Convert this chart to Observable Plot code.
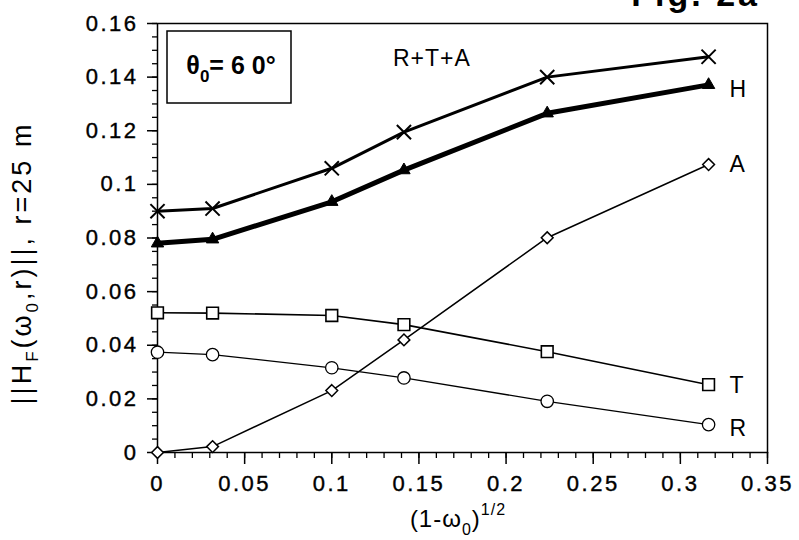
<!DOCTYPE html>
<html>
<head>
<meta charset="utf-8">
<script src="https://cdn.jsdelivr.net/npm/d3@7"></script>
<script src="https://cdn.jsdelivr.net/npm/@observablehq/plot@0.6"></script>
<style>
  html, body { margin: 0; padding: 0; background: #fff; }
  #chart { position: relative; width: 799px; height: 540px; overflow: hidden; }
  svg { font-family: "Liberation Sans", Arial, Helvetica, sans-serif; }
</style>
</head>
<body>
<div id="chart"></div>
<script>
// x values: (1-ω0)^(1/2)
const xVals = [0, 0.0316, 0.1, 0.1414, 0.2236, 0.3162];
// series values
const totalVals = [0.0900, 0.0910, 0.1060, 0.1195, 0.1400, 0.1476]; // × (R+T+A)
const hVals     = [0.0780, 0.0795, 0.0935, 0.1053, 0.1265, 0.1371]; // ▲ H
const aVals     = [0.0000, 0.0022, 0.0231, 0.0420, 0.0801, 0.1074]; // ◇ A
const tVals     = [0.0521, 0.0520, 0.0511, 0.0477, 0.0376, 0.0253]; // □ T
const rVals     = [0.0374, 0.0365, 0.0316, 0.0278, 0.0191, 0.0104]; // ○ R
// ticks
const xTicks = [0, 0.05, 0.1, 0.15, 0.2, 0.25, 0.3, 0.35];
const yTicks = [0, 0.02, 0.04, 0.06, 0.08, 0.1, 0.12, 0.14, 0.16];
const xMinor = d3.range(0, 0.3501, 0.01);
const yMinor = d3.range(0, 0.1601, 0.005);

const rows = (vals) => xVals.map((x, i) => ({x, y: vals[i]}));
const total = rows(totalVals), H = rows(hVals), A = rows(aVals), T = rows(tVals), R = rows(rVals);
const last = (d) => [d[d.length - 1]];

const chart = Plot.plot({
  width: 799,
  height: 540,
  marginLeft: 157,
  marginRight: 32,
  marginTop: 23,
  marginBottom: 88,
  style: {fontFamily: "Liberation Sans, Arial, sans-serif", color: "#000", background: "#fff"},
  x: {domain: [0, 0.35]},
  y: {domain: [0, 0.16]},
  marks: [
    Plot.frame({stroke: "#000", strokeWidth: 1.5}),
    Plot.axisX({ticks: xMinor, tickSize: 6, text: null, label: null, strokeWidth: 1.3}),
    Plot.axisX({ticks: xTicks, tickSize: 12, tickPadding: 11, tickFormat: d3.format("~g"),
      fontSize: 22, strokeWidth: 1.5, label: null}),
    Plot.axisY({ticks: yMinor, tickSize: 5, text: null, label: null, strokeWidth: 1.3}),
    Plot.axisY({ticks: yTicks, tickSize: 10, tickPadding: 9, tickFormat: d3.format("~g"),
      fontSize: 22, strokeWidth: 1.5, label: null}),
    // lines
    Plot.line(total, {x: "x", y: "y", stroke: "#000", strokeWidth: 3}),
    Plot.line(H, {x: "x", y: "y", stroke: "#000", strokeWidth: 5}),
    Plot.line(A, {x: "x", y: "y", stroke: "#000", strokeWidth: 1.5}),
    Plot.line(T, {x: "x", y: "y", stroke: "#000", strokeWidth: 1.6}),
    Plot.line(R, {x: "x", y: "y", stroke: "#000", strokeWidth: 1.3}),
    // markers
    Plot.dot(total, {x: "x", y: "y", symbol: "times", r: 6.5, stroke: "#000", strokeWidth: 2}),
    Plot.dot(H, {x: "x", y: "y", symbol: "triangle", r: 4.6, fill: "#000", stroke: "#000", strokeWidth: 1}),
    Plot.dot(A, {x: "x", y: "y", symbol: "diamond2", r: 5.3, fill: "#fff", stroke: "#000", strokeWidth: 1.5}),
    Plot.dot(T, {x: "x", y: "y", symbol: "square", r: 6.6, fill: "#fff", stroke: "#000", strokeWidth: 1.6}),
    Plot.dot(R, {x: "x", y: "y", symbol: "circle", r: 6.2, fill: "#fff", stroke: "#000", strokeWidth: 1.3}),
    // series labels
    Plot.text(last(H), {x: "x", y: "y", text: () => "H", dx: 21, dy: 5, textAnchor: "start", fontSize: 23, fill: "#000"}),
    Plot.text(last(A), {x: "x", y: "y", text: () => "A", dx: 21, dy: 0, textAnchor: "start", fontSize: 23, fill: "#000"}),
    Plot.text(last(T), {x: "x", y: "y", text: () => "T", dx: 21, dy: 1, textAnchor: "start", fontSize: 23, fill: "#000"}),
    Plot.text(last(R), {x: "x", y: "y", text: () => "R", dx: 21, dy: 4, textAnchor: "start", fontSize: 23, fill: "#000"})
  ]
});

document.getElementById("chart").appendChild(chart);

const svg = d3.select(chart);
svg.attr("overflow", "hidden");

// wider, slightly heavier tick labels, like the reference digits
svg.selectAll("g[aria-label='x-axis tick label'] text, g[aria-label='y-axis tick label'] text")
  .style("letter-spacing", "2.5px")
  .attr("stroke", "#000").attr("stroke-width", 0.4);

// y-axis title
const yt = svg.append("text")
  .attr("transform", "translate(31,263) rotate(-90)")
  .attr("text-anchor", "middle")
  .attr("font-size", 27)
  .style("letter-spacing", "3px")
  .attr("fill", "#000");
yt.append("tspan").text("||H");
yt.append("tspan").attr("font-size", 17).attr("dy", 7).text("F");
yt.append("tspan").attr("dy", -7).text("(ω");
yt.append("tspan").attr("font-size", 17).attr("dy", 7).text("0");
yt.append("tspan").attr("dy", -7).text(",r)||, r=25 m");

// x-axis title
const xt = svg.append("text")
  .attr("x", 458).attr("y", 527)
  .attr("text-anchor", "middle")
  .attr("font-size", 24)
  .style("letter-spacing", "1px")
  .attr("fill", "#000");
xt.append("tspan").text("(1-ω");
xt.append("tspan").attr("font-size", 16).attr("dy", 8).text("0");
xt.append("tspan").attr("dy", -8).text(")");
xt.append("tspan").attr("font-size", 16).attr("dy", -12).text("1/2");

// inset box
svg.append("rect").attr("x", 167).attr("y", 31).attr("width", 124).attr("height", 72)
  .attr("fill", "none").attr("stroke", "#000").attr("stroke-width", 1.5);
const th = svg.append("text")
  .attr("x", 231).attr("y", 74)
  .attr("text-anchor", "middle")
  .attr("font-size", 25).attr("font-weight", "bold")
  .attr("fill", "#000");
th.append("tspan").text("θ");
th.append("tspan").attr("font-size", 17).attr("dy", 8).text("0");
th.append("tspan").attr("dy", -8).text("= 6 0°");

// R+T+A label
svg.append("text").attr("x", 393).attr("y", 66)
  .attr("text-anchor", "start")
  .attr("font-size", 23).style("letter-spacing", "1px")
  .attr("fill", "#000").text("R+T+A");

// figure caption, cut off by the top edge as in the reference
svg.append("text").attr("x", 760).attr("y", 6)
  .attr("text-anchor", "end").attr("font-size", 34).attr("font-weight", "bold")
  .style("letter-spacing", "3px")
  .attr("fill", "#000").text("Fig. 2a");
</script>
</body>
</html>
